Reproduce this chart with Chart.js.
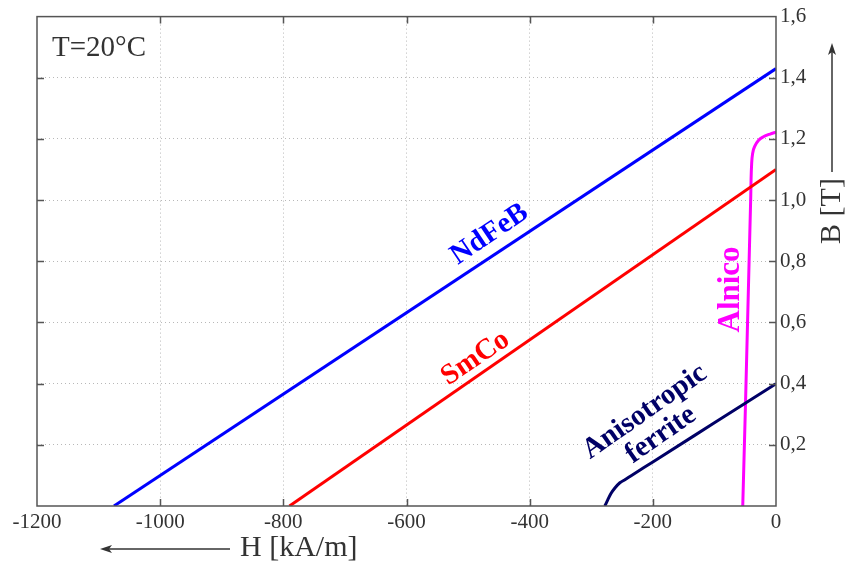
<!DOCTYPE html>
<html>
<head>
<meta charset="utf-8">
<script src="https://cdn.jsdelivr.net/npm/chart.js@4/dist/chart.umd.min.js"></script>
<style>
html,body{margin:0;padding:0;background:#fff;}
#wrap{width:845px;height:567px;}
</style>
</head>
<body>
<div id="wrap"><canvas id="c" width="845" height="567"></canvas></div>
<script>
// ---- data ----
const H_NdFeB = [-1075, 0];
const B_NdFeB = [0, 1.43];
const H_SmCo = [-790, 0];
const B_SmCo = [0, 1.10];
const H_Ferrite = [-278, -273.4, -268, -261.6, -253.5, -245.4, -234.6, -200, -100, 0];
const B_Ferrite = [0, 0.019, 0.041, 0.059, 0.076, 0.086, 0.100, 0.144, 0.272, 0.40];
const H_Alnico = [-54, -41, -40.5, -39.5, -37.8, -34, -28.6, -20.5, -9.7, 0];
const B_Alnico = [0, 1.013, 1.067, 1.121, 1.154, 1.178, 1.195, 1.207, 1.216, 1.222];
const xTicks = [-1200, -1000, -800, -600, -400, -200, 0];
const yTicks = [0, 0.2, 0.4, 0.6, 0.8, 1.0, 1.2, 1.4, 1.6];
const seriesNames = ['NdFeB', 'SmCo', 'Anisotropic ferrite', 'Alnico'];
// label anchors in data coordinates [H, B]
const labelAnchors = [
  {text: ['NdFeB'], at: [-465, 0.888]},
  {text: ['SmCo'], at: [-488, 0.483]},
  {text: ['Anisotropic', 'ferrite'], at: [-200, 0.27]},
  {text: ['Alnico'], at: [-73, 0.708]}
];
const tempLabel = 'T=20°C';
const xTitle = 'H [kA/m]';
const yTitle = 'B [T]';

const colors = ['#0000ff', '#ff0000', '#000066', '#ff00ff'];
const angles = [-34, -34, -35, -90];
const labelSizes = [29, 29, 29, 31];
const SERIF = '"Liberation Serif","Times New Roman",serif';

function pts(hs, bs){ return hs.map((h,i)=>({x:h, y:bs[i]})); }

const frameTicks = {
  id: 'frameTicks',
  afterDatasetsDraw(chart){
    const {ctx, chartArea:a, scales:{x, y}} = chart;
    ctx.save();
    ctx.strokeStyle = '#555';
    ctx.lineWidth = 1.5;
    ctx.strokeRect(a.left, a.top, a.right - a.left, a.bottom - a.top);
    ctx.beginPath();
    const L = 7;
    xTicks.slice(1, -1).forEach(v => {
      const px = Math.round(x.getPixelForValue(v)) + 0.5;
      ctx.moveTo(px, a.bottom); ctx.lineTo(px, a.bottom - L);
      ctx.moveTo(px, a.top); ctx.lineTo(px, a.top + L);
    });
    yTicks.slice(1, -1).forEach(v => {
      const py = Math.round(y.getPixelForValue(v)) + 0.5;
      ctx.moveTo(a.left, py); ctx.lineTo(a.left + L, py);
      ctx.moveTo(a.right, py); ctx.lineTo(a.right - L, py);
    });
    ctx.stroke();
    ctx.restore();
  },
  afterDraw(chart){
    const {ctx, chartArea:a, scales:{x, y}} = chart;
    ctx.save();
    // series labels
    labelAnchors.forEach((lab, i) => {
      const px = x.getPixelForValue(lab.at[0]);
      const py = y.getPixelForValue(lab.at[1]);
      ctx.save();
      ctx.translate(px, py);
      ctx.rotate(angles[i] * Math.PI / 180);
      ctx.fillStyle = colors[i];
      ctx.font = 'bold ' + labelSizes[i] + 'px ' + SERIF;
      ctx.textAlign = 'center';
      ctx.textBaseline = 'middle';
      const n = lab.text.length;
      lab.text.forEach((t, k) => {
        ctx.fillText(t, 0, (k - (n - 1) / 2) * 28);
      });
      ctx.restore();
    });
    // temperature
    ctx.fillStyle = '#333';
    ctx.font = '29px ' + SERIF;
    ctx.textAlign = 'left';
    ctx.textBaseline = 'middle';
    ctx.fillText(tempLabel, a.left + 15, a.top + 32);
    // x title and arrow
    ctx.font = '30px ' + SERIF;
    ctx.textAlign = 'left';
    ctx.textBaseline = 'middle';
    ctx.fillText(xTitle, 240, 548);
    ctx.strokeStyle = '#333';
    ctx.lineWidth = 1.5;
    ctx.beginPath();
    ctx.moveTo(230, 549); ctx.lineTo(104, 549); ctx.stroke();
    ctx.beginPath();
    ctx.moveTo(100, 549); ctx.lineTo(112, 545); ctx.lineTo(109, 549); ctx.lineTo(112, 553); ctx.closePath();
    ctx.fillStyle = '#333'; ctx.fill();
    // y title and arrow
    ctx.save();
    ctx.translate(832, 211);
    ctx.rotate(-Math.PI / 2);
    ctx.textAlign = 'center';
    ctx.textBaseline = 'middle';
    ctx.fillText(yTitle, 0, 0);
    ctx.restore();
    ctx.beginPath();
    ctx.moveTo(832, 172); ctx.lineTo(832, 47); ctx.stroke();
    ctx.beginPath();
    ctx.moveTo(832, 43); ctx.lineTo(828, 55); ctx.lineTo(832, 52); ctx.lineTo(836, 55); ctx.closePath();
    ctx.fill();
    ctx.restore();
  }
};

const datasets = [
  {label: seriesNames[0], data: pts(H_NdFeB, B_NdFeB), borderColor: colors[0], tension: 0},
  {label: seriesNames[1], data: pts(H_SmCo, B_SmCo), borderColor: colors[1], tension: 0},
  {label: seriesNames[2], data: pts(H_Ferrite, B_Ferrite), borderColor: colors[2], cubicInterpolationMode: 'monotone'},
  {label: seriesNames[3], data: pts(H_Alnico, B_Alnico), borderColor: colors[3], cubicInterpolationMode: 'monotone'}
].map(d => Object.assign({showLine: true, pointRadius: 0, borderWidth: 3, fill: false}, d));

const gridColorX = c => (c.tick && (c.tick.value === -1200 || c.tick.value === 0)) ? 'rgba(0,0,0,0)' : '#b8b8b8';
const gridColorY = c => (c.tick && (c.tick.value === 0 || c.tick.value === 1.6)) ? 'rgba(0,0,0,0)' : '#b8b8b8';

new Chart(document.getElementById('c'), {
  type: 'scatter',
  data: {datasets},
  plugins: [frameTicks],
  options: {
    responsive: false,
    animation: false,
    devicePixelRatio: 1,
    layout: {padding: {left: 37, top: 12, right: 0, bottom: 0}},
    plugins: {legend: {display: false}, tooltip: {enabled: false}},
    scales: {
      x: {
        type: 'linear', position: 'bottom', min: -1200, max: 0,
        afterBuildTicks: s => { s.ticks = xTicks.map(v => ({value: v})); },
        afterFit: s => { s.height = 61; },
        border: {display: false, dash: [1, 3]},
        grid: {drawTicks: false, color: gridColorX, lineWidth: 1},
        ticks: {
          padding: 4, maxRotation: 0, autoSkip: false, color: '#333',
          font: {family: SERIF, size: 21},
          callback: v => String(v)
        }
      },
      y: {
        type: 'linear', position: 'right', min: 0, max: 1.6,
        afterBuildTicks: s => { s.ticks = yTicks.map(v => ({value: v})); },
        afterFit: s => { s.width = 69; },
        border: {display: false, dash: [1, 3]},
        grid: {drawTicks: false, color: gridColorY, lineWidth: 1},
        ticks: {
          padding: 4, color: '#333',
          font: {family: SERIF, size: 21},
          callback: v => v === 0 ? '' : v.toFixed(1).replace('.', ',')
        }
      }
    }
  }
});
</script>
</body>
</html>
